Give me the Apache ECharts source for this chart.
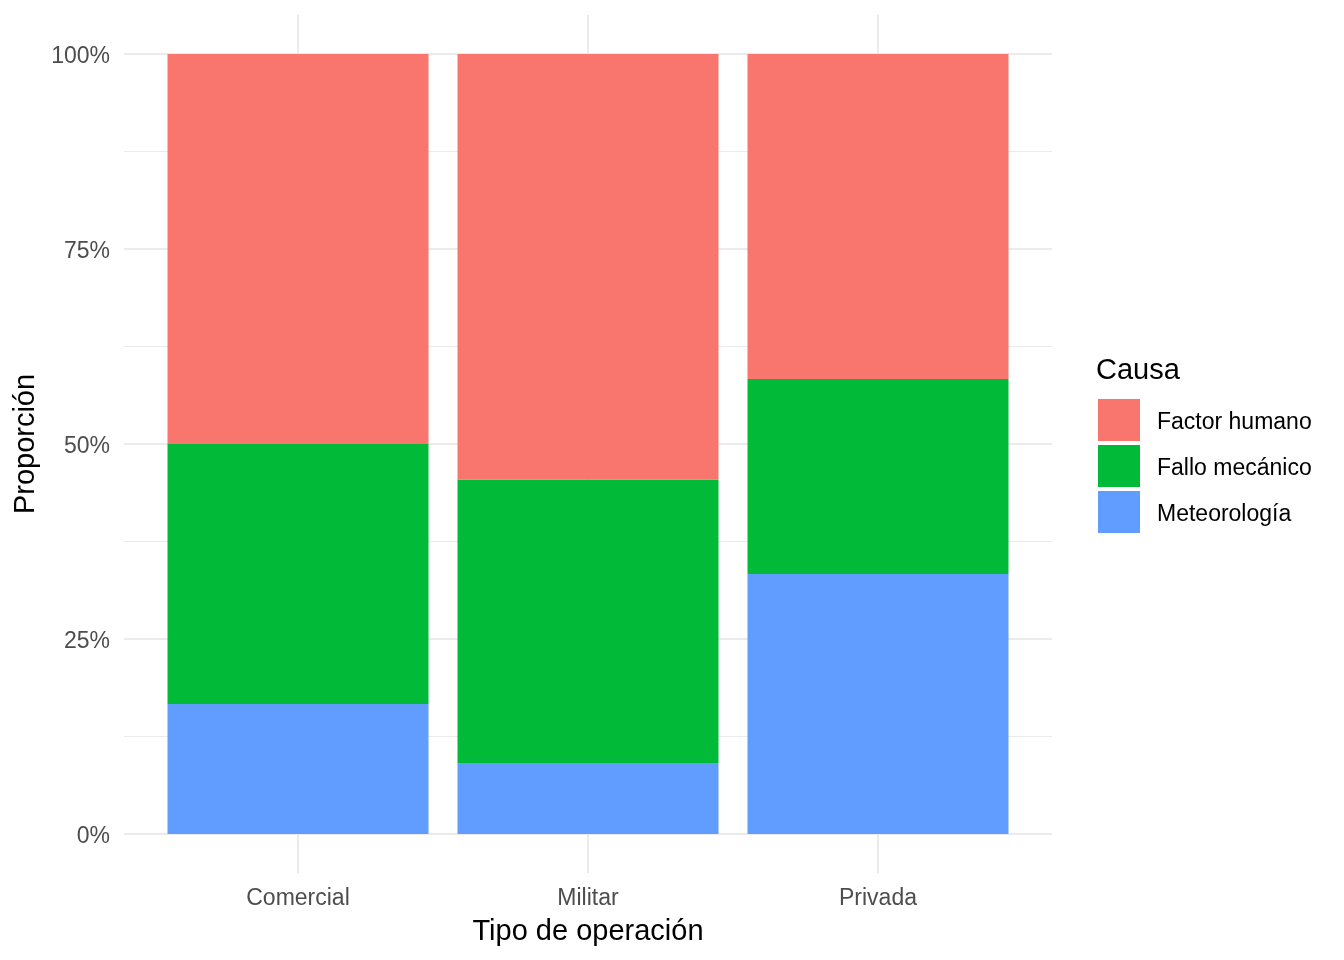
<!DOCTYPE html>
<html>
<head>
<meta charset="utf-8">
<script src="https://cdn.jsdelivr.net/npm/echarts@6/dist/echarts.min.js"></script>
<style>html,body{margin:0;padding:0;background:#fff}#c{width:1344px;height:960px}</style>
</head>
<body>
<div id="c"></div>
<script>
const categories = ['Comercial', 'Militar', 'Privada'];
const meteorologia = [0.1667, 0.0909, 0.3333];
const falloMecanico = [0.3333, 0.3636, 0.25];
const factorHumano = [0.5, 0.5455, 0.4167];
const legendOrder = ['Factor humano', 'Fallo mecánico', 'Meteorología'];

const FONT = 'Liberation Sans';
const GRID_COLOR = '#ebebeb';

const chart = echarts.init(document.getElementById('c'), null, {renderer: 'canvas'});
chart.setOption({
  animation: false,
  backgroundColor: '#fff',
  textStyle: {fontFamily: FONT},
  title: {
    text: 'Causa', left: 1096, top: 356, padding: 0,
    textStyle: {fontSize: 29, fontWeight: 'normal', color: '#000', fontFamily: FONT}
  },
  legend: {
    orient: 'vertical', left: 1098, top: 399, padding: 0,
    itemWidth: 42, itemHeight: 42, itemGap: 4, icon: 'rect',
    selectedMode: false,
    data: legendOrder,
    formatter: name => '{t|' + name + '}',
    textStyle: {
      fontSize: 23, color: '#000', fontFamily: FONT, padding: [0, 0, 0, 12],
      rich: {t: {fontSize: 23, color: '#000', fontFamily: FONT, padding: [6, 0, 0, 0]}}
    }
  },
  grid: [
    // y scale 0..1 (horizontal gridlines, y labels)
    {left: 124, right: 292, top: 54, bottom: 126, containLabel: false, outerBoundsMode: 'none'},
    // category points (bars, vertical gridlines, x labels)
    {left: 298, right: 466, top: 15, bottom: 87, containLabel: false, outerBoundsMode: 'none'}
  ],
  xAxis: [
    {gridIndex: 0, type: 'value', min: 0, max: 1, show: false},
    {
      gridIndex: 1, type: 'category', data: categories, boundaryGap: false,
      name: 'Tipo de operación', nameLocation: 'middle', nameGap: 44,
      nameTextStyle: {fontSize: 29, color: '#000', fontFamily: FONT},
      axisLine: {show: false}, axisTick: {show: false},
      axisLabel: {fontSize: 23, color: '#4d4d4d', margin: 14, fontFamily: FONT, interval: 0},
      splitLine: {show: true, interval: 0, lineStyle: {color: GRID_COLOR, width: 2}}
    }
  ],
  yAxis: [
    {
      gridIndex: 0, type: 'value', min: 0, max: 1, interval: 0.25,
      name: 'Proporción', nameLocation: 'middle', nameGap: 84, nameRotate: 90,
      nameTextStyle: {fontSize: 29, color: '#000', fontFamily: FONT},
      axisLine: {show: false}, axisTick: {show: false},
      minorTick: {show: false, splitNumber: 2},
      minorSplitLine: {show: true, lineStyle: {color: GRID_COLOR, width: 1.2}},
      axisLabel: {
        fontSize: 23, color: '#4d4d4d', margin: 14, fontFamily: FONT,
        formatter: v => '{t|' + Math.round(v * 100) + '%}',
        rich: {t: {fontSize: 23, color: '#4d4d4d', fontFamily: FONT, padding: [6, 0, 0, 0]}}
      },
      splitLine: {show: true, lineStyle: {color: GRID_COLOR, width: 2}}
    },
    {gridIndex: 1, type: 'value', min: -0.05, max: 1.05, show: false}
  ],
  series: [
    {name: 'Meteorología', type: 'bar', stack: 'total', barWidth: '90%', clip: false,
     xAxisIndex: 1, yAxisIndex: 1, itemStyle: {color: '#619CFF'}, data: meteorologia},
    {name: 'Fallo mecánico', type: 'bar', stack: 'total', barWidth: '90%', clip: false,
     xAxisIndex: 1, yAxisIndex: 1, itemStyle: {color: '#00BA38'}, data: falloMecanico},
    {name: 'Factor humano', type: 'bar', stack: 'total', barWidth: '90%', clip: false,
     xAxisIndex: 1, yAxisIndex: 1, itemStyle: {color: '#F8766D'}, data: factorHumano}
  ]
});
</script>
</body>
</html>
